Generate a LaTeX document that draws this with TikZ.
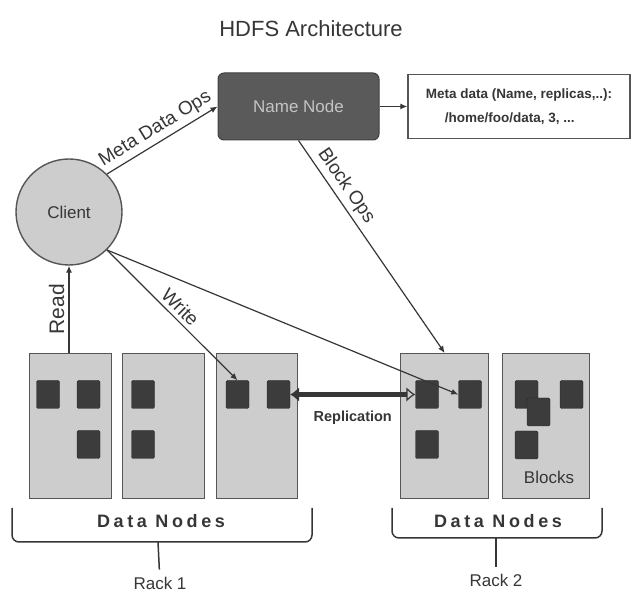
\documentclass[tikz,border=0pt]{standalone}
\usepackage{fontspec}
\setmainfont{Liberation Sans}
\usetikzlibrary{arrows.meta}
\definecolor{ink}{HTML}{363636}
\definecolor{edgegray}{HTML}{555555}
\definecolor{nnfill}{HTML}{5A5A5A}
\definecolor{nntext}{HTML}{C4C4C4}
\definecolor{boxfill}{HTML}{CDCDCD}
\definecolor{blockfill}{HTML}{3C3C3C}
\newcommand{\pxfont}[1]{\fontsize{#1}{#1}\selectfont}

\begin{document}
\begin{tikzpicture}[x=1pt, y=-1pt,
					every node/.style={text=ink, inner sep=0pt},
					namenode/.style={rectangle, rounded corners=6pt, draw=black!75, fill=nnfill, line width=1pt, minimum width=161pt, minimum height=67pt, text=nntext, font=\pxfont{17}},
					metabox/.style={rectangle, draw=edgegray, line width=1.4pt, minimum width=222pt, minimum height=64pt, align=left, font=\bfseries\fontsize{13.5}{24}\selectfont},
					client/.style={circle, draw=edgegray, fill=boxfill, line width=1.4pt, minimum size=106pt, font=\pxfont{17}},
					datanode/.style={rectangle, draw=edgegray, fill=boxfill, line width=1.4pt, minimum height=145pt, anchor=north west},
					block/.style={rectangle, rounded corners=1.5pt, draw=black!85, fill=blockfill, minimum width=23pt, minimum height=28pt},
					conn/.style={draw=ink, line width=1.2pt, -{Latex[length=7pt,width=6pt]}},
					repl/.style={draw=ink, line width=5pt, {Latex[length=9pt,width=15pt]}-{Latex[open,length=9pt,width=15pt,line width=1.2pt]}},
					lbl/.style={font=\pxfont{19}, sloped, above=4pt, midway},
					brace/.style={draw=ink, line width=1.5pt, rounded corners=7pt},
					spaced/.style={font=\bfseries\pxfont{18}\addfontfeatures{LetterSpace=20}}]
\useasboundingbox (0,0) rectangle (633,593);

\node (title) at (311,29) {\pxfont{22}HDFS Architecture};
\node[namenode] (namenode) at (298.5,106.5) {Name Node};
\node[metabox] (meta) at (519,106.5) {Meta data (Name, replicas,..):\\\hspace*{19pt}/home/foo/data, 3, ...};
\node[client] (client) at (69,212) {Client};

\node[datanode, minimum width=82pt] (dn11) at (29,353) {};
\node[datanode, minimum width=82pt] (dn12) at (122,353) {};
\node[datanode, minimum width=81pt] (dn13) at (216,353) {};
\node[datanode, minimum width=88pt] (dn21) at (400,353) {};
\node[datanode, minimum width=87pt] (dn22) at (502,353) {};

\node[block] (dn11a) at (48,394.5) {};
\node[block] (dn11b) at (88.5,394.5) {};
\node[block] (dn11c) at (88.5,444.5) {};
\node[block] (dn12a) at (143,394.5) {};
\node[block] (dn12b) at (143,444.5) {};
\node[block] (dn13a) at (237.5,394.5) {};
\node[block] (dn13b) at (278.5,394.5) {};
\node[block] (dn21a) at (427,394.5) {};
\node[block] (dn21b) at (470,394.5) {};
\node[block] (dn21c) at (427,444.5) {};
\node[block] (dn22a) at (526.5,394.5) {};
\node[block] (dn22b) at (538.5,412) {};
\node[block] (dn22c) at (571.5,394.5) {};
\node[block] (dn22d) at (526.5,445) {};
\node (blockslabel) at (549,477) {\pxfont{17}Blocks};

\draw[conn] (namenode) -- (meta);
\draw[conn] (client.45) -- (namenode.west) node[lbl] {Meta Data Ops};
\draw[conn] (namenode.south) -- (dn21.north) node[lbl, pos=0.25] {Block Ops};
\draw[conn] (client.south |- dn11.north) -- (client.south) node[lbl, font=\pxfont{21}] {Read};
\draw[conn] (client.-45) -- (dn13a.north) node[lbl] {Write};
\draw[conn] (client.-45) -- (dn21b.west);
\draw[repl] (dn13b.east) -- (dn21a.west) node[midway, below=14pt, font=\bfseries\pxfont{14.5}] (repllabel) {Replication};

\draw[brace] (12,508) -- (12,542) -- (312,542) -- (312,508);
\draw[brace] (392,508) -- (392,538) -- (602,538) -- (602,508);
\node[spaced] (rackone nodes) at (161,521) {Data Nodes};
\node[spaced] (racktwo nodes) at (498,521) {Data Nodes};
\coordinate (rackone stem) at (158,542);
\coordinate (racktwo stem) at (496,538);
\node (rackone) at (160,583) {\pxfont{17}Rack 1};
\node (racktwo) at (496,580) {\pxfont{17}Rack 2};
\draw[draw=ink, line width=1.5pt, shorten >=7pt] (rackone stem) -- (rackone);
\draw[draw=ink, line width=1.5pt, shorten >=7pt] (racktwo stem) -- (racktwo);
\end{tikzpicture}
\end{document}
